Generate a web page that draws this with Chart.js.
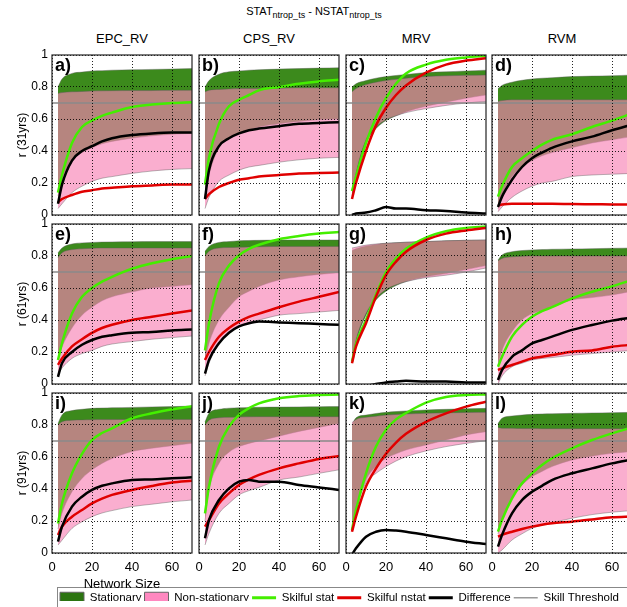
<!DOCTYPE html>
<html>
<head>
<meta charset="utf-8">
<script src="https://cdn.jsdelivr.net/npm/chart.js@4"></script>
<style>
  html, body { margin: 0; padding: 0; width: 627px; height: 607px; overflow: hidden; background: #fff; }
  body { position: relative; font-family: "Liberation Sans", Arial, sans-serif; color: #000; }
  canvas { position: absolute; }
  .colTitle { position: absolute; top: 31px; font-size: 13px; white-space: nowrap; transform: translateX(-50%); }
  #title { position: absolute; left: 314px; top: 5px; font-size: 11px; white-space: nowrap; transform: translateX(-50%); }
  #title sub { font-size: 9px; }
  #legendBox { position: absolute; left: 57px; top: 587px; width: 620px; height: 30px; border: 1.5px solid #888; }
</style>
</head>
<body>
<div id="title">STAT<sub>ntrop_ts</sub> - NSTAT<sub>ntrop_ts</sub></div>
<div id="legendBox"></div>
<script>
// network sizes where the curves were read
const netSize = [3, 5, 10, 15, 20, 25, 30, 40, 50, 60, 70];
const panelLetters = ["a", "b", "c", "d", "e", "f", "g", "h", "i", "j", "k", "l"];
const colTitles = ["EPC_RV", "CPS_RV", "MRV", "RVM"];
const rowTitles = ["r (31yrs)", "r (61yrs)", "r (91yrs)"];
const xTicks = [0, 20, 40, 60];
const yTicks = [0, 0.2, 0.4, 0.6, 0.8, 1];
const skillThreshold = 0.7;

// stationary band (upper / lower), one row per panel a..l
const statHigh = [
  [0.80, 0.85, 0.885, 0.893, 0.90, 0.902, 0.905, 0.908, 0.91, 0.912, 0.915],
  [0.80, 0.84, 0.88, 0.895, 0.90, 0.905, 0.908, 0.912, 0.915, 0.918, 0.92],
  [0.80, 0.82, 0.84, 0.855, 0.865, 0.872, 0.878, 0.89, 0.895, 0.90, 0.905],
  [0.79, 0.81, 0.83, 0.842, 0.85, 0.855, 0.858, 0.865, 0.868, 0.87, 0.875],
  [0.82, 0.85, 0.875, 0.882, 0.885, 0.887, 0.888, 0.889, 0.89, 0.89, 0.89],
  [0.83, 0.86, 0.885, 0.89, 0.895, 0.897, 0.898, 0.90, 0.90, 0.90, 0.90],
  [0.835, 0.845, 0.862, 0.872, 0.879, 0.883, 0.886, 0.89, 0.895, 0.898, 0.90],
  [0.775, 0.806, 0.827, 0.834, 0.838, 0.84, 0.842, 0.844, 0.846, 0.848, 0.85],
  [0.81, 0.863, 0.89, 0.898, 0.904, 0.906, 0.908, 0.91, 0.913, 0.915, 0.918],
  [0.82, 0.873, 0.898, 0.905, 0.908, 0.91, 0.911, 0.912, 0.913, 0.914, 0.915],
  [0.80, 0.845, 0.862, 0.872, 0.879, 0.884, 0.888, 0.894, 0.898, 0.901, 0.904],
  [0.81, 0.842, 0.856, 0.862, 0.867, 0.869, 0.87, 0.873, 0.875, 0.877, 0.879]
];
const statLow = [
  [0.12, 0.22, 0.34, 0.39, 0.42, 0.445, 0.46, 0.48, 0.495, 0.505, 0.51],
  [0.12, 0.25, 0.42, 0.48, 0.51, 0.53, 0.55, 0.57, 0.585, 0.595, 0.60],
  [0.10, 0.24, 0.45, 0.54, 0.59, 0.62, 0.645, 0.68, 0.705, 0.73, 0.75],
  [0.04, 0.12, 0.24, 0.30, 0.34, 0.37, 0.39, 0.42, 0.45, 0.47, 0.49],
  [0.15, 0.23, 0.35, 0.43, 0.48, 0.52, 0.545, 0.575, 0.60, 0.61, 0.62],
  [0.15, 0.255, 0.40, 0.48, 0.545, 0.58, 0.61, 0.65, 0.67, 0.685, 0.695],
  [0.14, 0.26, 0.43, 0.525, 0.58, 0.615, 0.64, 0.67, 0.69, 0.715, 0.74],
  [0.12, 0.21, 0.327, 0.40, 0.44, 0.46, 0.48, 0.525, 0.54, 0.556, 0.58],
  [0.15, 0.248, 0.383, 0.466, 0.52, 0.56, 0.59, 0.634, 0.655, 0.67, 0.686],
  [0.20, 0.39, 0.56, 0.63, 0.665, 0.685, 0.70, 0.73, 0.76, 0.785, 0.81],
  [0.144, 0.269, 0.456, 0.54, 0.592, 0.62, 0.644, 0.675, 0.706, 0.738, 0.758],
  [0.12, 0.206, 0.352, 0.425, 0.477, 0.51, 0.54, 0.581, 0.605, 0.623, 0.635]
];

// non-stationary band (upper / lower)
const nstatHigh = [
  [0.76, 0.765, 0.77, 0.772, 0.775, 0.776, 0.777, 0.778, 0.778, 0.779, 0.78],
  [0.77, 0.78, 0.785, 0.788, 0.79, 0.79, 0.79, 0.792, 0.795, 0.795, 0.795],
  [0.77, 0.79, 0.815, 0.83, 0.84, 0.848, 0.855, 0.865, 0.87, 0.873, 0.875],
  [0.71, 0.715, 0.72, 0.72, 0.72, 0.72, 0.72, 0.72, 0.72, 0.72, 0.72],
  [0.79, 0.82, 0.84, 0.845, 0.848, 0.85, 0.85, 0.85, 0.85, 0.85, 0.85],
  [0.80, 0.83, 0.85, 0.853, 0.855, 0.857, 0.858, 0.86, 0.86, 0.86, 0.86],
  [0.85, 0.855, 0.868, 0.875, 0.88, 0.883, 0.886, 0.89, 0.895, 0.898, 0.90],
  [0.77, 0.785, 0.795, 0.798, 0.80, 0.80, 0.80, 0.80, 0.80, 0.80, 0.80],
  [0.80, 0.82, 0.83, 0.832, 0.833, 0.834, 0.834, 0.835, 0.835, 0.835, 0.835],
  [0.80, 0.83, 0.845, 0.848, 0.85, 0.851, 0.852, 0.852, 0.852, 0.852, 0.852],
  [0.815, 0.835, 0.848, 0.855, 0.862, 0.866, 0.869, 0.873, 0.876, 0.878, 0.879],
  [0.785, 0.78, 0.78, 0.778, 0.778, 0.777, 0.777, 0.777, 0.777, 0.777, 0.777]
];
const nstatLow = [
  [0.04, 0.07, 0.14, 0.18, 0.21, 0.23, 0.24, 0.26, 0.275, 0.285, 0.29],
  [0.04, 0.11, 0.21, 0.25, 0.28, 0.30, 0.31, 0.33, 0.345, 0.355, 0.36],
  [0.12, 0.26, 0.47, 0.55, 0.595, 0.62, 0.64, 0.665, 0.685, 0.70, 0.71],
  [0.02, 0.05, 0.11, 0.15, 0.18, 0.20, 0.21, 0.24, 0.25, 0.255, 0.26],
  [0.06, 0.10, 0.16, 0.19, 0.21, 0.235, 0.25, 0.265, 0.28, 0.29, 0.30],
  [0.05, 0.13, 0.255, 0.32, 0.36, 0.385, 0.40, 0.43, 0.44, 0.45, 0.46],
  [0.15, 0.275, 0.44, 0.535, 0.59, 0.62, 0.64, 0.665, 0.68, 0.70, 0.725],
  [0.0, 0.05, 0.108, 0.13, 0.15, 0.16, 0.165, 0.18, 0.19, 0.20, 0.21],
  [0.05, 0.08, 0.154, 0.195, 0.227, 0.25, 0.265, 0.29, 0.305, 0.32, 0.331],
  [0.05, 0.123, 0.248, 0.31, 0.363, 0.39, 0.41, 0.456, 0.475, 0.498, 0.52],
  [0.15, 0.27, 0.44, 0.498, 0.54, 0.575, 0.602, 0.638, 0.665, 0.685, 0.702],
  [0.0, 0.019, 0.081, 0.12, 0.154, 0.175, 0.19, 0.217, 0.24, 0.255, 0.265]
];

// skilful stat (green), skilful nstat (red), difference (black)
const skilfulStat = [
  [0.14, 0.25, 0.45, 0.55, 0.59, 0.62, 0.64, 0.675, 0.69, 0.70, 0.705],
  [0.19, 0.36, 0.57, 0.68, 0.72, 0.75, 0.78, 0.80, 0.82, 0.835, 0.845],
  [0.15, 0.24, 0.45, 0.61, 0.73, 0.82, 0.885, 0.94, 0.97, 0.985, 0.995],
  [0.115, 0.18, 0.30, 0.355, 0.40, 0.44, 0.47, 0.505, 0.55, 0.59, 0.635],
  [0.15, 0.255, 0.44, 0.545, 0.60, 0.64, 0.67, 0.72, 0.755, 0.78, 0.80],
  [0.21, 0.38, 0.63, 0.74, 0.805, 0.845, 0.87, 0.905, 0.925, 0.94, 0.95],
  [0.14, 0.25, 0.40, 0.56, 0.70, 0.785, 0.845, 0.915, 0.955, 0.975, 0.985],
  [0.108, 0.17, 0.296, 0.369, 0.42, 0.455, 0.48, 0.535, 0.577, 0.61, 0.65],
  [0.185, 0.31, 0.498, 0.62, 0.706, 0.75, 0.779, 0.842, 0.873, 0.898, 0.918],
  [0.248, 0.415, 0.664, 0.79, 0.863, 0.905, 0.935, 0.967, 0.981, 0.987, 0.991],
  [0.144, 0.269, 0.498, 0.665, 0.77, 0.835, 0.875, 0.94, 0.975, 0.987, 0.991],
  [0.133, 0.206, 0.342, 0.435, 0.498, 0.55, 0.592, 0.654, 0.706, 0.748, 0.785]
];
const skilfulNstat = [
  [0.08, 0.10, 0.125, 0.145, 0.155, 0.165, 0.17, 0.18, 0.185, 0.19, 0.19],
  [0.10, 0.13, 0.175, 0.20, 0.22, 0.23, 0.24, 0.25, 0.26, 0.262, 0.265],
  [0.10, 0.20, 0.40, 0.56, 0.67, 0.75, 0.81, 0.89, 0.94, 0.965, 0.98],
  [0.06, 0.065, 0.07, 0.07, 0.07, 0.07, 0.07, 0.068, 0.067, 0.066, 0.065],
  [0.12, 0.16, 0.235, 0.28, 0.32, 0.35, 0.37, 0.40, 0.42, 0.44, 0.46],
  [0.15, 0.20, 0.295, 0.35, 0.39, 0.42, 0.44, 0.48, 0.515, 0.545, 0.575],
  [0.13, 0.233, 0.38, 0.546, 0.681, 0.765, 0.827, 0.90, 0.94, 0.96, 0.975],
  [0.087, 0.098, 0.119, 0.14, 0.16, 0.17, 0.181, 0.202, 0.21, 0.233, 0.245],
  [0.113, 0.165, 0.227, 0.269, 0.31, 0.34, 0.363, 0.394, 0.419, 0.44, 0.452],
  [0.165, 0.206, 0.31, 0.373, 0.425, 0.46, 0.488, 0.529, 0.56, 0.588, 0.606],
  [0.133, 0.227, 0.415, 0.529, 0.62, 0.69, 0.745, 0.82, 0.873, 0.915, 0.946],
  [0.102, 0.113, 0.133, 0.15, 0.165, 0.177, 0.186, 0.196, 0.21, 0.223, 0.228]
];
const difference = [
  [0.07, 0.19, 0.34, 0.40, 0.43, 0.46, 0.48, 0.50, 0.51, 0.515, 0.515],
  [0.10, 0.28, 0.43, 0.48, 0.51, 0.53, 0.54, 0.555, 0.57, 0.575, 0.58],
  [0.0, 0.01, 0.015, 0.03, 0.05, 0.04, 0.04, 0.03, 0.025, 0.015, 0.01],
  [0.05, 0.115, 0.22, 0.30, 0.355, 0.39, 0.42, 0.46, 0.49, 0.53, 0.565],
  [0.045, 0.13, 0.20, 0.245, 0.275, 0.295, 0.305, 0.32, 0.325, 0.335, 0.34],
  [0.065, 0.15, 0.255, 0.32, 0.36, 0.38, 0.39, 0.385, 0.38, 0.375, 0.37],
  [-0.01, -0.01, -0.01, 0.0, 0.01, 0.015, 0.02, 0.015, 0.015, 0.01, 0.01],
  [0.025, 0.087, 0.17, 0.21, 0.254, 0.275, 0.296, 0.338, 0.369, 0.396, 0.415],
  [0.071, 0.165, 0.29, 0.352, 0.394, 0.42, 0.435, 0.456, 0.46, 0.467, 0.473],
  [0.092, 0.206, 0.331, 0.404, 0.446, 0.456, 0.446, 0.446, 0.425, 0.41, 0.394],
  [-0.01, 0.029, 0.102, 0.133, 0.144, 0.14, 0.133, 0.113, 0.092, 0.071, 0.056],
  [0.04, 0.113, 0.248, 0.331, 0.383, 0.42, 0.456, 0.498, 0.529, 0.56, 0.585]
];

// layout of the grid of panels (plot-area corners in page pixels)
const colX = [52, 199, 346, 492];
const rowY = [55, 224, 393];
const plotW = 140, plotH = 160;
const axisW = 52, axisH = 40, padTop = 12, padRight = 4;

Chart.defaults.font.family = '"Liberation Sans", Arial, sans-serif';
Chart.defaults.color = "#000";

function pts(ys) {
  return netSize.map((x, i) => ({ x: x, y: ys[i] }));
}

// black frame around the plot area and the panel letter
const frameAndLetter = {
  id: "frameAndLetter",
  afterDraw(chart, args, opts) {
    const ctx = chart.ctx, a = chart.chartArea;
    ctx.save();
    ctx.strokeStyle = "#222";
    ctx.lineWidth = 1.2;
    ctx.strokeRect(a.left, a.top, a.right - a.left, a.bottom - a.top);
    ctx.fillStyle = "#000";
    ctx.font = 'bold 18px "Liberation Sans", Arial, sans-serif';
    ctx.textBaseline = "top";
    ctx.fillText(opts.letter + ")", a.left + 3, a.top + 2);
    ctx.restore();
  }
};

colTitles.forEach(function (t, c) {
  const d = document.createElement("div");
  d.className = "colTitle";
  d.style.left = (colX[c] + plotW / 2) + "px";
  d.textContent = t;
  document.body.appendChild(d);
});

for (let p = 0; p < 12; p++) {
  const row = Math.floor(p / 4), col = p % 4;
  const cv = document.createElement("canvas");
  cv.width = axisW + plotW + padRight;
  cv.height = padTop + plotH + axisH;
  cv.style.left = (colX[col] - axisW) + "px";
  cv.style.top = (rowY[row] - padTop) + "px";
  document.body.appendChild(cv);

  const edge = { borderColor: "rgba(90,90,90,0.6)", borderWidth: 0.7 };

  new Chart(cv, {
    type: "line",
    data: {
      datasets: [
        { label: "Difference", data: pts(difference[p]), borderColor: "#000", borderWidth: 2.5, order: 0, clip: 0 },
        { label: "Skilful nstat", data: pts(skilfulNstat[p]), borderColor: "#e00000", borderWidth: 2.5, order: 1, clip: 0 },
        { label: "Skilful stat", data: pts(skilfulStat[p]), borderColor: "#44ee00", borderWidth: 2.5, order: 2, clip: 0 },
        { label: "Skill Threshold", data: [{ x: 0, y: skillThreshold }, { x: 70, y: skillThreshold }], borderColor: "#8a8a8a", borderWidth: 1.5, order: 3 },
        Object.assign({ label: "nstat low", data: pts(nstatLow[p]), order: 4, fill: false }, edge),
        Object.assign({ label: "Non-stationary", data: pts(nstatHigh[p]), order: 4, fill: 4, backgroundColor: "rgba(248,130,182,0.65)" }, edge),
        Object.assign({ label: "stat low", data: pts(statLow[p]), order: 5, fill: false }, edge),
        Object.assign({ label: "Stationary", data: pts(statHigh[p]), order: 5, fill: 6, backgroundColor: "#3c8a1c" }, edge)
      ]
    },
    options: {
      responsive: false,
      animation: false,
      events: [],
      layout: { autoPadding: false, padding: { top: padTop, right: padRight, left: 0, bottom: 0 } },
      elements: {
        point: { radius: 0 },
        line: { cubicInterpolationMode: "monotone" }
      },
      scales: {
        x: {
          type: "linear", min: 0, max: 70,
          grid: { color: "rgba(0,0,0,0.85)", lineWidth: 1, drawTicks: false, z: 1 },
          border: { display: false, dash: [1, 2] },
          ticks: { display: row === 2, padding: 7, autoSkip: false, maxRotation: 0, font: { size: 13 } },
          afterBuildTicks: s => { s.ticks = xTicks.map(v => ({ value: v })); },
          title: { display: p === 8, text: "Network Size", font: { size: 13 }, padding: { top: 0, bottom: 1 } },
          afterFit: s => { s.height = axisH; }
        },
        y: {
          min: 0, max: 1,
          grid: { color: "rgba(0,0,0,0.85)", lineWidth: 1, drawTicks: false, z: 1 },
          border: { display: false, dash: [1, 2] },
          ticks: { display: col === 0, padding: 4, font: { size: 12 }, callback: v => +v.toFixed(1) },
          afterBuildTicks: s => { s.ticks = yTicks.map(v => ({ value: v })); },
          title: { display: col === 0, text: rowTitles[row], font: { size: 12 }, padding: { top: 15, bottom: 0 } },
          afterFit: s => { s.width = axisW; }
        }
      },
      plugins: {
        legend: { display: false },
        tooltip: { enabled: false },
        frameAndLetter: { letter: panelLetters[p] }
      }
    },
    plugins: [frameAndLetter]
  });
}

// legend strip under the panels
const legendItems = [
  { text: "Stationary", fillStyle: "#2b7410", strokeStyle: "#666", lineWidth: 1, pointStyle: "rect" },
  { text: "Non-stationary", fillStyle: "#ff88c0", strokeStyle: "#666", lineWidth: 1, pointStyle: "rect" },
  { text: "Skilful stat", fillStyle: "#44ee00", strokeStyle: "#44ee00", lineWidth: 3, pointStyle: "line" },
  { text: "Skilful nstat", fillStyle: "#e00000", strokeStyle: "#e00000", lineWidth: 3, pointStyle: "line" },
  { text: "Difference", fillStyle: "#000", strokeStyle: "#000", lineWidth: 3, pointStyle: "line" },
  { text: "Skill Threshold", fillStyle: "#999", strokeStyle: "#999", lineWidth: 1.5, pointStyle: "line" }
];

const legCv = document.createElement("canvas");
legCv.width = 660;
legCv.height = 24;
legCv.style.left = "57px";
legCv.style.top = "589px";
document.body.appendChild(legCv);

new Chart(legCv, {
  type: "line",
  data: { datasets: [] },
  options: {
    responsive: false,
    animation: false,
    events: [],
    scales: { x: { display: false }, y: { display: false } },
    plugins: {
      tooltip: { enabled: false },
      legend: {
        display: true,
        position: "top",
        align: "start",
        labels: {
          usePointStyle: true,
          pointStyleWidth: 24,
          boxHeight: 11,
          padding: 3,
          color: "#000",
          font: { size: 11.5 },
          generateLabels: () => legendItems.map((it, i) => Object.assign({ hidden: false, datasetIndex: i }, it))
        }
      }
    }
  }
});
</script>
</body>
</html>
